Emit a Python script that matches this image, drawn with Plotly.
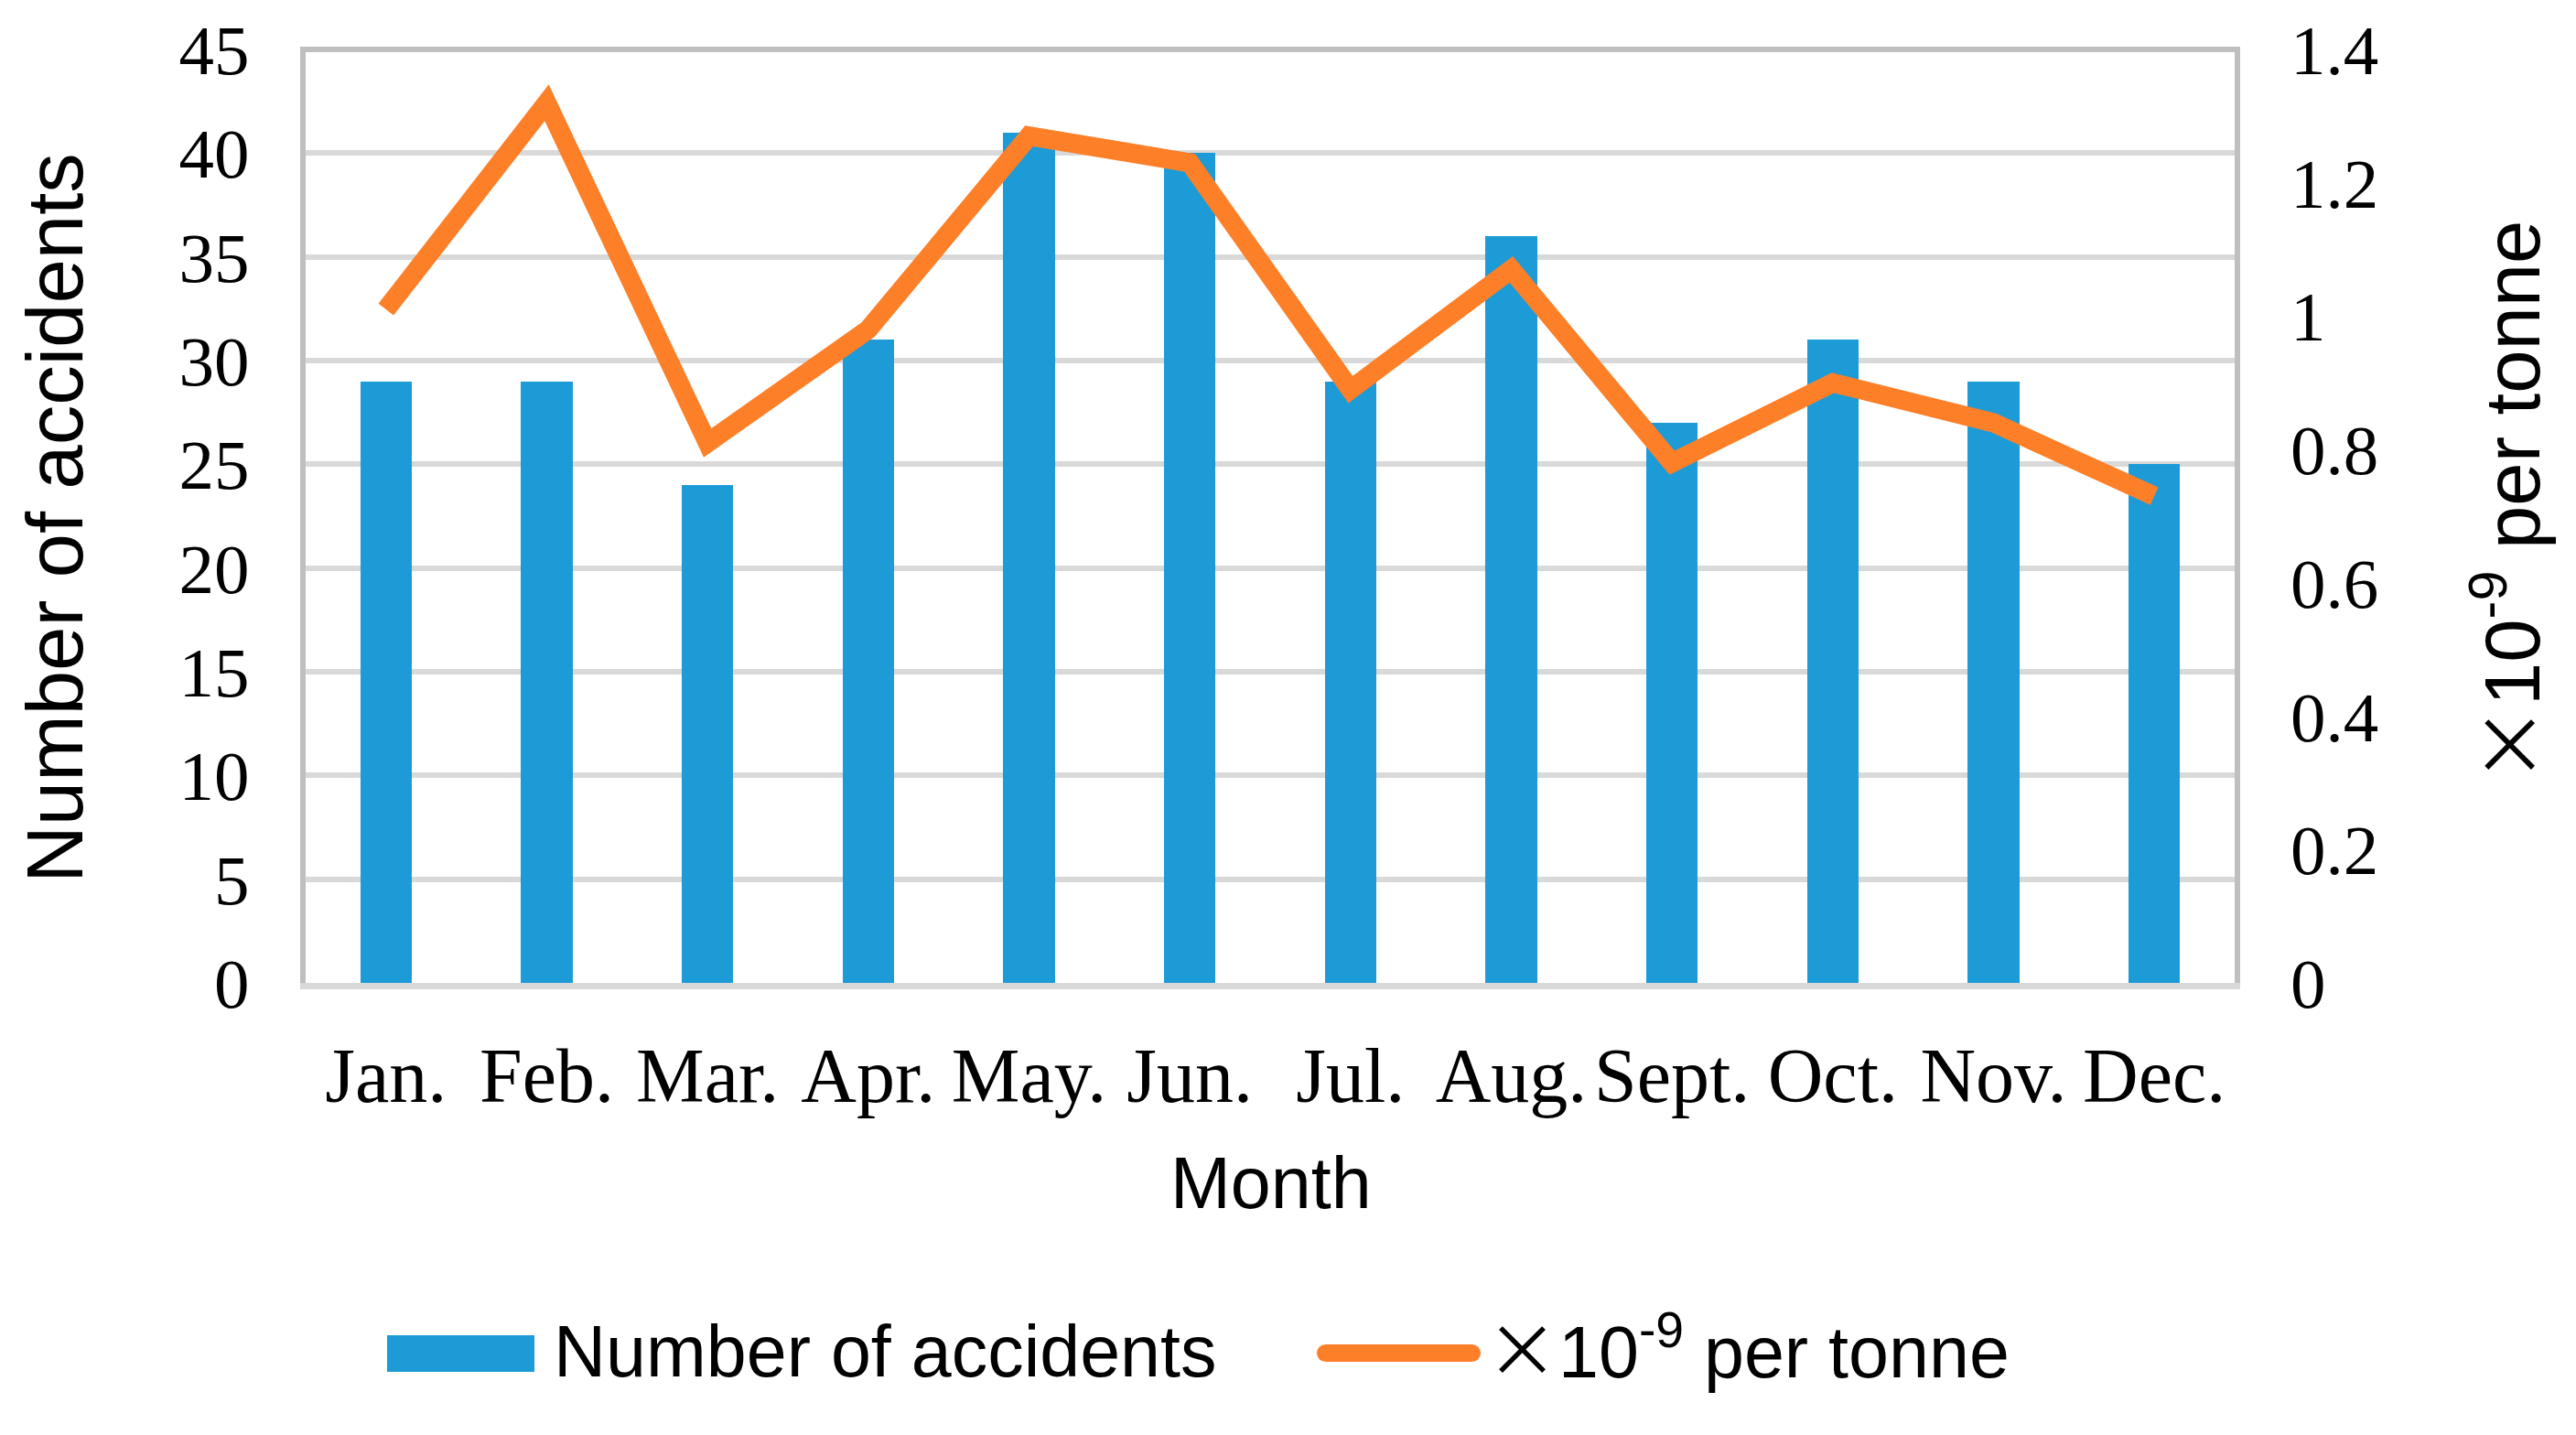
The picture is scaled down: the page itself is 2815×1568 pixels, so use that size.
import plotly.graph_objects as go

# ---------------- data ----------------
months = ["Jan.", "Feb.", "Mar.", "Apr.", "May.", "Jun.", "Jul.", "Aug.", "Sept.", "Oct.", "Nov.", "Dec."]
accidents = [29, 29, 24, 31, 41, 40, 29, 36, 27, 31, 29, 25]
rate_per_tonne = [1.01, 1.32, 0.81, 0.98, 1.27, 1.23, 0.89, 1.07, 0.78, 0.90, 0.84, 0.73]
left_ticks = [0, 5, 10, 15, 20, 25, 30, 35, 40, 45]
right_ticks = [0, 0.2, 0.4, 0.6, 0.8, 1.0, 1.2, 1.4]
right_tick_text = ["0", "0.2", "0.4", "0.6", "0.8", "1", "1.2", "1.4"]

bar_name = "Number of accidents"
line_name = "<span style='font-family:Noto Sans CJK JP'>×</span>10<sup>-9</sup> per tonne"

# ---------------- geometry ----------------
W, H = 2815, 1568
L, R, T, B = 334, 2442, 54, 1074  # plot box in pixels

def px(xp):
    return (xp - L) / (R - L)

def py(yp):
    return (B - yp) / (B - T)

BLUE = "#1D9BD7"
ORANGE = "#FD7F28"
SERIF = "Liberation Serif, Times New Roman, serif"
SANS = "Liberation Sans, Arial, sans-serif"

fig = go.Figure()
fig.add_bar(x=months, y=accidents, width=0.32, marker=dict(color=BLUE, line=dict(width=0)),
            name=bar_name, yaxis="y", showlegend=False)
fig.add_scatter(x=months, y=rate_per_tonne, mode="lines", line=dict(color=ORANGE, width=21),
                name=line_name, yaxis="y2", showlegend=False)

shapes = [
    # top border of plot box
    dict(type="line", xref="paper", yref="paper", x0=px(L - 6), x1=px(R + 6), y0=1, y1=1,
         line=dict(color="#bfbfbf", width=6), layer="above"),
    # legend: bar swatch
    dict(type="rect", xref="paper", yref="paper", x0=px(423), x1=px(584), y0=py(1459), y1=py(1499),
         fillcolor=BLUE, line=dict(width=0)),
    # legend: line swatch
    dict(type="line", xref="paper", yref="paper", x0=px(1448.5), x1=px(1608.5), y0=py(1478.5), y1=py(1478.5),
         line=dict(color=ORANGE, width=19)),
    dict(type="circle", xref="paper", yref="paper", x0=px(1439), x1=px(1458), y0=py(1488), y1=py(1469),
         fillcolor=ORANGE, line=dict(width=0)),
    dict(type="circle", xref="paper", yref="paper", x0=px(1599), x1=px(1618), y0=py(1488), y1=py(1469),
         fillcolor=ORANGE, line=dict(width=0)),
]

annotations = [
    dict(text="Number of accidents", xref="paper", yref="paper", x=px(59), y=py(566),
         textangle=-90, showarrow=False, xanchor="center", yanchor="middle",
         font=dict(family=SANS, size=87, color="black")),
    dict(text=line_name,
         xref="paper", yref="paper", x=px(2737), y=py(549),
         textangle=-90, showarrow=False, xanchor="center", yanchor="middle",
         font=dict(family=SANS, size=85, color="black")),
    dict(text="Month", xref="paper", yref="paper", x=px(1389), y=py(1292), showarrow=False,
         xanchor="center", yanchor="middle", font=dict(family=SANS, size=79, color="black")),
    dict(text=bar_name, xref="paper", yref="paper", x=px(603), y=py(1476), showarrow=False,
         xanchor="left", yanchor="middle", font=dict(family=SANS, size=79, color="black")),
    dict(text=line_name, xref="paper", yref="paper", x=px(1622), y=py(1470), showarrow=False,
         xanchor="left", yanchor="middle", font=dict(family=SANS, size=79, color="black")),
]

fig.update_layout(
    width=W, height=H, autosize=False,
    margin=dict(l=L, r=W - R, t=T, b=H - B, pad=0),
    paper_bgcolor="white", plot_bgcolor="white",
    showlegend=False,
    bargap=0,
    xaxis=dict(range=[-0.5, 11.5], showline=True, linecolor="#d9d9d9", linewidth=7,
               ticks="", showgrid=False, zeroline=False,
               tickfont=dict(family=SERIF, size=84, color="black"), ticklabelstandoff=22),
    yaxis=dict(range=[0, 45], tickvals=left_ticks, showgrid=True, gridcolor="#d9d9d9", gridwidth=6,
               showline=True, mirror=True, linecolor="#bfbfbf", linewidth=6, zeroline=False, ticks="",
               tickfont=dict(family=SERIF, size=77, color="black"), ticklabelstandoff=40),
    yaxis2=dict(range=[0, 1.4], overlaying="y", side="right", tickvals=right_ticks, ticktext=right_tick_text,
                showgrid=False, zeroline=False, showline=False, ticks="",
                tickfont=dict(family=SERIF, size=77, color="black"), ticklabelstandoff=60),
    shapes=shapes,
    annotations=annotations,
)

fig.write_html("out.html", config={"displayModeBar": False},
               post_script="document.body.style.margin='0';document.body.style.overflow='hidden';")
